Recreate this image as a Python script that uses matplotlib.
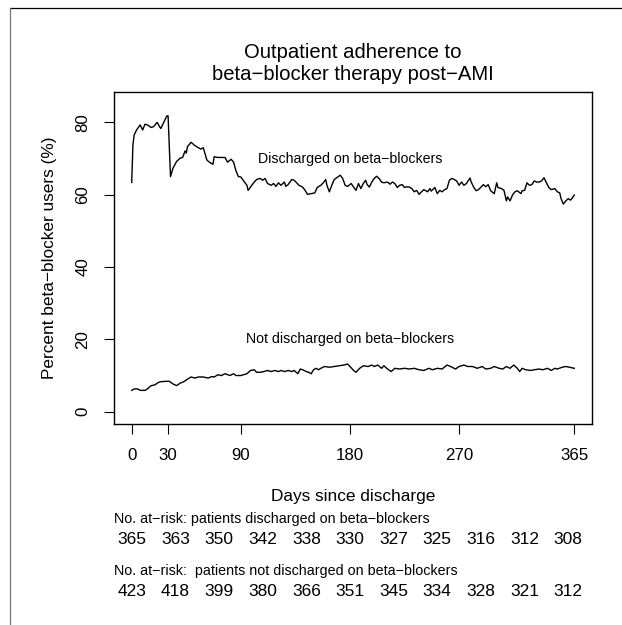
import matplotlib
matplotlib.use("Agg")
import matplotlib.pyplot as plt
from matplotlib.lines import Line2D
import matplotlib.transforms as mtransforms

plt.rcParams['font.family'] = ['Liberation Sans', 'DejaVu Sans']

# discharged on beta-blockers
days_on = [0, 1, 2, 4, 7, 9, 11, 13, 16, 18, 21, 23, 24, 27, 29, 30, 32, 34, 37, 40,
           42, 44, 45, 46, 49, 52, 55, 57, 59, 62, 64, 67, 68, 71, 73, 77, 79, 82, 84, 86,
           88, 90, 93, 95, 96, 99, 101, 103, 106, 108, 110, 112, 115, 117, 119, 121, 123, 126, 127, 129,
           132, 134, 136, 138, 141, 143, 145, 148, 151, 153, 156, 158, 160, 161, 163, 165, 167, 170, 172, 174,
           176, 178, 181, 183, 185, 187, 189, 191, 193, 194, 196, 198, 200, 202, 204, 206, 208, 211, 213, 215,
           217, 219, 221, 223, 225, 227, 229, 231, 233, 235, 237, 239, 241, 244, 246, 247, 250, 252, 254, 256,
           258, 260, 262, 264, 266, 268, 270, 272, 274, 276, 279, 280, 282, 284, 286, 288, 290, 292, 294, 296,
           299, 301, 302, 305, 307, 309, 310, 312, 314, 316, 318, 321, 322, 324, 326, 328, 330, 332, 334, 336,
           338, 340, 342, 344, 346, 349, 351, 353, 354, 356, 358, 360, 362, 365]
pct_on = [63.4, 73.7, 76.5, 77.9, 79.3, 77.9, 79.5, 79.3, 78.6, 78.8, 80.0, 78.8, 78.3, 80.4, 81.8, 81.8, 65.0, 67.3, 69.2, 70.1,
          70.3, 72.1, 71.5, 73.3, 74.5, 73.6, 73.0, 72.6, 73.0, 69.6, 69.0, 68.4, 70.5, 70.3, 70.3, 70.3, 69.0, 69.8, 69.0, 66.6,
          65.0, 64.9, 63.5, 62.6, 61.2, 62.6, 63.5, 64.2, 64.5, 64.0, 64.5, 63.1, 62.6, 63.1, 62.3, 63.3, 62.6, 63.5, 62.3, 62.8,
          64.2, 64.0, 63.3, 62.6, 62.1, 61.2, 60.1, 60.3, 60.5, 62.0, 62.6, 63.3, 64.2, 62.6, 60.8, 62.6, 64.2, 64.9, 65.4, 64.5,
          62.6, 62.3, 63.1, 62.1, 61.2, 63.1, 61.7, 63.1, 64.0, 62.9, 62.1, 63.5, 64.5, 65.1, 64.5, 63.5, 63.3, 63.5, 62.9, 63.5,
          63.1, 62.0, 62.6, 62.8, 62.0, 62.2, 62.1, 61.7, 60.8, 61.2, 60.1, 60.8, 61.4, 60.8, 61.7, 61.0, 62.0, 60.3, 61.2, 60.8,
          61.4, 61.7, 64.0, 64.5, 64.2, 63.8, 62.6, 63.5, 62.6, 63.1, 64.6, 63.5, 62.1, 61.1, 61.4, 62.1, 62.8, 62.2, 62.8, 61.1,
          60.3, 63.3, 62.0, 61.7, 61.2, 58.3, 59.4, 58.3, 59.9, 60.8, 61.1, 60.3, 61.1, 61.2, 63.3, 62.6, 62.8, 63.8, 63.5, 63.5,
          63.8, 64.7, 63.3, 62.0, 61.4, 61.7, 60.8, 60.5, 59.0, 57.4, 58.3, 58.9, 58.5, 59.9]

# not discharged on beta-blockers
days_off = [0, 2, 5, 7, 11, 13, 16, 19, 22, 24, 28, 31, 34, 37, 40, 43, 46, 49, 52, 55,
            59, 63, 66, 68, 71, 74, 77, 81, 84, 86, 90, 95, 98, 101, 103, 106, 109, 112, 115, 118,
            121, 123, 126, 129, 132, 134, 137, 139, 141, 144, 146, 148, 150, 152, 154, 156, 159, 163, 167, 171,
            175, 178, 180, 183, 185, 188, 191, 195, 198, 200, 203, 206, 208, 211, 214, 217, 221, 225, 229, 233,
            237, 241, 245, 248, 252, 256, 260, 263, 267, 270, 274, 277, 281, 285, 289, 292, 296, 299, 303, 306,
            309, 312, 315, 318, 320, 322, 325, 329, 332, 336, 339, 343, 346, 349, 351, 355, 358, 361, 365]
pct_off = [5.9, 6.3, 6.3, 5.9, 5.9, 6.3, 7.2, 7.4, 8.1, 8.3, 8.4, 8.4, 7.7, 7.2, 7.9, 8.3, 9.0, 9.6, 9.3, 9.6,
           9.6, 9.3, 9.7, 9.6, 10.2, 10.0, 10.5, 10.0, 10.5, 10.0, 10.0, 10.5, 11.4, 11.6, 10.9, 10.9, 11.1, 11.4, 11.1, 11.4,
           11.1, 11.4, 11.1, 11.4, 11.1, 11.4, 10.5, 11.8, 11.6, 11.1, 10.9, 10.5, 11.6, 12.0, 11.6, 12.0, 12.5, 12.3, 12.5, 12.7,
           12.9, 13.2, 12.5, 11.4, 10.9, 12.0, 12.7, 12.5, 12.9, 12.5, 12.9, 12.0, 12.7, 11.8, 11.1, 12.0, 11.8, 12.0, 11.8, 12.0,
           11.6, 11.4, 12.0, 11.6, 12.0, 11.8, 12.9, 12.5, 11.8, 12.5, 12.9, 12.5, 12.5, 12.0, 12.5, 11.8, 12.0, 12.5, 12.0, 11.8,
           12.5, 12.0, 12.9, 12.0, 11.1, 12.0, 11.6, 11.4, 11.6, 11.8, 11.6, 12.0, 11.4, 12.0, 11.8, 12.3, 12.5, 12.3, 12.0]

xticks = [0, 30, 90, 180, 270, 365]
yticks = [0, 20, 40, 60, 80]
risk_days = [0, 36, 72, 108, 144, 180, 216, 252, 288, 324, 360]
risk_on = [365, 363, 350, 342, 338, 330, 327, 325, 316, 312, 308]
risk_off = [423, 418, 399, 380, 366, 351, 345, 334, 328, 321, 312]

W, H = 622, 625
fig = plt.figure(figsize=(W / 100, H / 100), dpi=100)
ax = fig.add_axes([114 / W, 1 - 424 / H, 478 / W, 332 / H])

ax.plot(days_on, pct_on, color='black', lw=1.0)
ax.plot(days_off, pct_off, color='black', lw=1.0)
ax.set_xlim(-14.6, 379.6)
ax.set_ylim(-3.4, 88.4)
ax.set_xticks(xticks)
ax.set_yticks(yticks)
ax.set_yticklabels([str(v) for v in yticks], rotation=90, va='center')
ax.tick_params(axis='both', length=7, width=0.8, labelsize=12.2, pad=10)
for s in ax.spines.values():
    s.set_linewidth(1.0)

ax.text(180, 70, "Discharged on beta\u2212blockers", ha='center', va='center', fontsize=10.2)
ax.text(180, 20, "Not discharged on beta\u2212blockers", ha='center', va='center', fontsize=10.2)

ax.set_ylabel("Percent beta\u2212blocker users (%)", fontsize=12.4, labelpad=13)

cx = 353 / W
fig.text(cx, 1 - 52 / H, "Outpatient adherence to", ha='center', va='center', fontsize=14.6)
fig.text(cx, 1 - 75 / H, "beta\u2212blocker therapy post\u2212AMI", ha='center', va='center', fontsize=14.6)
fig.text(cx, 1 - 497 / H, "Days since discharge", ha='center', va='center', fontsize=12.4)

fig.text(114 / W, 1 - 519 / H, "No. at\u2212risk: patients discharged on beta\u2212blockers",
         ha='left', va='center', fontsize=10.3)
fig.text(114 / W, 1 - 571 / H, "No. at\u2212risk:  patients not discharged on beta\u2212blockers",
         ha='left', va='center', fontsize=10.3)

trans = mtransforms.blended_transform_factory(ax.transData, fig.transFigure)
for d, n1, n2 in zip(risk_days, risk_on, risk_off):
    ax.text(d, 1 - 540 / H, str(n1), transform=trans, ha='center', va='center', fontsize=12.5, clip_on=False)
    ax.text(d, 1 - 592 / H, str(n2), transform=trans, ha='center', va='center', fontsize=12.5, clip_on=False)

# outer frame, only top and left edges show
fig.add_artist(Line2D([10 / W, 1.0], [1 - 8 / H, 1 - 8 / H], color='black', lw=0.9, transform=fig.transFigure))
fig.add_artist(Line2D([10 / W, 10 / W], [1 - 8 / H, 0.0], color='#777777', lw=0.9, transform=fig.transFigure))

fig.savefig("out.png", dpi=100)
